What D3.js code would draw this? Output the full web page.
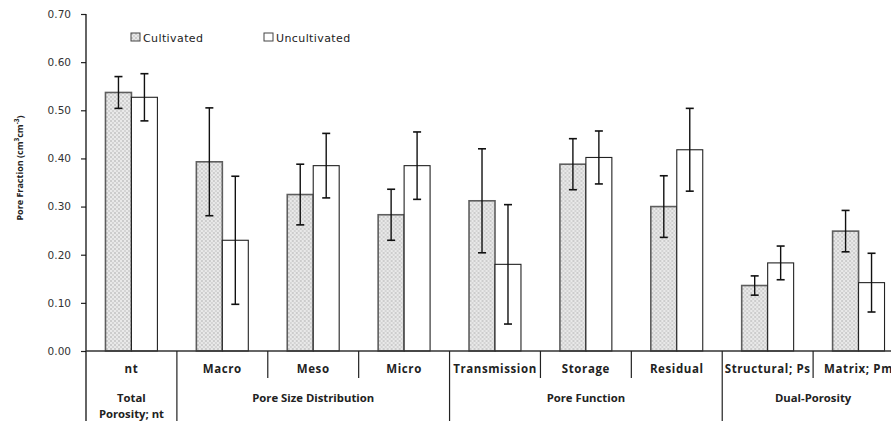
<!DOCTYPE html>
<html>
<head>
<meta charset="utf-8">
<script src="https://cdn.jsdelivr.net/npm/d3@7/dist/d3.min.js"></script>
<style>
  html, body { margin: 0; padding: 0; background: #fff; }
  svg { display: block; }
</style>
</head>
<body>
<svg id="chart" width="891" height="421"></svg>
<script>
// Pore fractions (cm3 cm-3) by pore class, cultivated vs uncultivated soil
const categories = ["nt", "Macro", "Meso", "Micro", "Transmission", "Storage", "Residual", "Structural; Ps", "Matrix; Pm"];
const series = ["Cultivated", "Uncultivated"];
const cultivated      = [0.537, 0.393, 0.325, 0.283, 0.312, 0.388, 0.300, 0.136, 0.249];
const cultivatedErr   = [0.033, 0.112, 0.063, 0.053, 0.108, 0.053, 0.064, 0.020, 0.043];
const uncultivated    = [0.527, 0.230, 0.385, 0.385, 0.180, 0.402, 0.418, 0.183, 0.142];
const uncultivatedErr = [0.049, 0.133, 0.067, 0.070, 0.124, 0.055, 0.086, 0.035, 0.061];
const groupNames = ["Total\nPorosity; nt", "Pore Size Distribution", "Pore Function", "Dual-Porosity"];
const groupSizes = [1, 3, 3, 2];
const yTicks = [0, 0.1, 0.2, 0.3, 0.4, 0.5, 0.6, 0.7];

const svg = d3.select("#chart");
const mLeft = 86, mTop = 14, mBottom = 351, mRight = 904;

// dotted fill for the cultivated bars
const defs = svg.append("defs");
const pat = defs.append("pattern").attr("id", "dots")
  .attr("patternUnits", "userSpaceOnUse").attr("width", 4).attr("height", 4);
pat.append("rect").attr("width", 4).attr("height", 4).attr("fill", "#e9e9e9");
pat.append("circle").attr("cx", 1).attr("cy", 1).attr("r", 0.7).attr("fill", "#9a9a9a");
pat.append("circle").attr("cx", 3).attr("cy", 3).attr("r", 0.7).attr("fill", "#b0b0b0");

const y = d3.scaleLinear().domain([0, 0.7]).range([mBottom, mTop]);
const x0 = d3.scaleBand().domain(categories).range([mLeft, mRight]).paddingInner(0).paddingOuter(0);
const x1 = d3.scaleBand().domain(series).range([0, x0.bandwidth()]).paddingInner(0).paddingOuter(0.75);

// y axis
const yAxis = svg.append("g").attr("transform", `translate(${mLeft},0)`)
  .call(d3.axisLeft(y).tickValues(yTicks).tickFormat(d3.format(".2f")).tickSize(5).tickPadding(10));
yAxis.select(".domain").remove();
yAxis.selectAll(".tick line").attr("stroke", "#222").attr("stroke-width", 1.2);
yAxis.selectAll("text").attr("font-family", "DejaVu Sans").attr("font-size", 10.5).attr("fill", "#333");
svg.append("line").attr("x1", mLeft).attr("x2", mLeft).attr("y1", mTop).attr("y2", 421)
  .attr("stroke", "#111").attr("stroke-width", 1.3);

// axis title
svg.append("text")
  .attr("transform", `translate(23,168) rotate(-90)`)
  .attr("text-anchor", "middle")
  .attr("font-family", "Open Sans").attr("font-weight", "bold").attr("font-size", 9).attr("fill", "#222")
  .call(t => {
    t.append("tspan").text("Pore Fraction (cm");
    t.append("tspan").text("3").attr("font-size", 6.5).attr("dy", -4);
    t.append("tspan").text("cm").attr("dy", 4);
    t.append("tspan").text("-3").attr("font-size", 6.5).attr("dy", -4);
    t.append("tspan").text(")").attr("dy", 4);
  });

// bars
const rows = categories.map((c, i) => ({
  c,
  vals: [
    { s: "Cultivated", v: cultivated[i], e: cultivatedErr[i] },
    { s: "Uncultivated", v: uncultivated[i], e: uncultivatedErr[i] }
  ]
}));

const g = svg.append("g").selectAll("g").data(rows).join("g")
  .attr("transform", d => `translate(${x0(d.c)},0)`);

g.selectAll("rect").data(d => d.vals).join("rect")
  .attr("x", d => x1(d.s))
  .attr("width", x1.bandwidth())
  .attr("y", d => y(d.v))
  .attr("height", d => y(0) - y(d.v))
  .attr("fill", d => d.s === "Cultivated" ? "url(#dots)" : "#fff")
  .attr("stroke", d => d.s === "Cultivated" ? "#5e5e5e" : "#222")
  .attr("stroke-width", d => d.s === "Cultivated" ? 1.6 : 1.1);

// error bars
const eb = g.selectAll("g.err").data(d => d.vals).join("g").attr("class", "err");
const cx = d => x1(d.s) + x1.bandwidth() / 2;
eb.append("line").attr("x1", cx).attr("x2", cx)
  .attr("y1", d => y(d.v + d.e)).attr("y2", d => y(d.v - d.e))
  .attr("stroke", "#111").attr("stroke-width", 1.4);
[1, -1].forEach(sign => {
  eb.append("line").attr("x1", d => cx(d) - 4).attr("x2", d => cx(d) + 4)
    .attr("y1", d => y(d.v + sign * d.e)).attr("y2", d => y(d.v + sign * d.e))
    .attr("stroke", "#111").attr("stroke-width", 1.6);
});

// category axis
svg.append("line").attr("x1", mLeft).attr("x2", mRight).attr("y1", mBottom).attr("y2", mBottom)
  .attr("stroke", "#333").attr("stroke-width", 1.3);

const groupStarts = [];
let acc = 0;
groupSizes.forEach(n => { groupStarts.push(acc); acc += n; });

categories.forEach((c, i) => {
  const xs = x0(c);
  const isGroupStart = groupStarts.includes(i);
  if (i > 0) {
    svg.append("line").attr("x1", xs).attr("x2", xs)
      .attr("y1", mBottom).attr("y2", isGroupStart ? 421 : 378)
      .attr("stroke", "#222").attr("stroke-width", 1.2);
  }
  svg.append("text").attr("x", xs + x0.bandwidth() / 2).attr("y", 373)
    .attr("text-anchor", "middle")
    .attr("font-family", "Open Sans").attr("font-weight", "bold").attr("font-size", 11.5)
    .attr("letter-spacing", 0.6).attr("fill", "#222")
    .text(c);
});

groupNames.forEach((name, gi) => {
  const first = categories[groupStarts[gi]];
  const last = categories[groupStarts[gi] + groupSizes[gi] - 1];
  const mid = (x0(first) + x0(last) + x0.bandwidth()) / 2;
  const lines = name.split("\n");
  lines.forEach((ln, li) => {
    svg.append("text").attr("x", mid).attr("y", 402 + li * 16)
      .attr("text-anchor", "middle")
      .attr("font-family", "Open Sans").attr("font-weight", "bold").attr("font-size", 11.3).attr("fill", "#222")
      .text(ln);
  });
});

// legend
const legend = svg.append("g").selectAll("g").data(series).join("g")
  .attr("transform", (d, i) => `translate(${i === 0 ? 131 : 264},33)`);
legend.append("rect").attr("width", 9).attr("height", 8)
  .attr("fill", d => d === "Cultivated" ? "url(#dots)" : "#fff")
  .attr("stroke", "#444").attr("stroke-width", 1);
legend.append("text").attr("x", 12).attr("y", 8.5)
  .attr("font-family", "DejaVu Sans").attr("font-size", 11).attr("letter-spacing", 0.4).attr("fill", "#222")
  .text(d => d);
</script>
</body>
</html>
